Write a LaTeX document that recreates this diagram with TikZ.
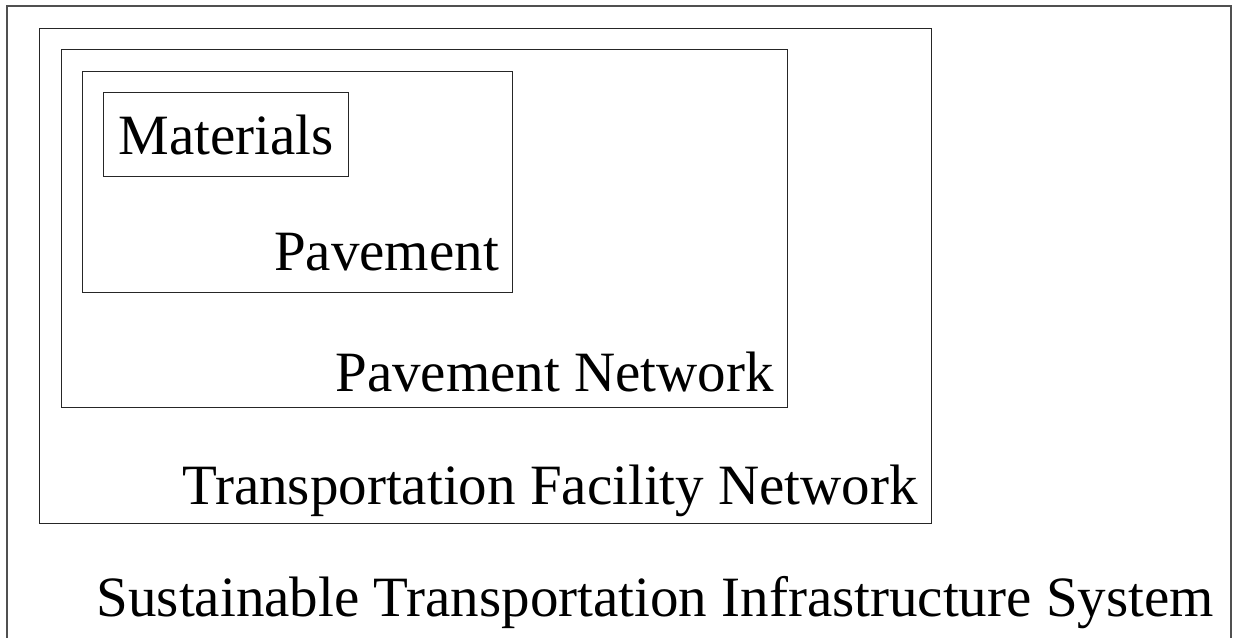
\documentclass[tikz,border=0pt]{standalone}
\usepackage{fontspec}
\setmainfont{Liberation Serif}
\usepackage{tikz}
\usetikzlibrary{positioning,calc}
\definecolor{edgegray}{RGB}{80,80,80}
\tikzset{
  layer/.style={draw=black!85, line width=1.1pt},
  outerlayer/.style={draw=edgegray, line width=1.8pt},
  tag/.style={font=\fontsize{57pt}{62pt}\selectfont, inner sep=0pt, anchor=base east},
}
\begin{document}
\begin{tikzpicture}[x=1pt, y=-1pt]
\useasboundingbox (0,0) rectangle (1233,637);

% -- nested frames -----------------------------------------------------------
\draw[outerlayer] (7,650) -- (7,6) -- (1231,6) -- (1231,650);
\node[layer, minimum width=892pt, minimum height=495pt, inner sep=0pt,
      anchor=north west] (facility) at (39,28) {};
\node[layer, minimum width=726pt, minimum height=358pt, inner sep=0pt,
      anchor=north west] (network) at (61,49) {};
\node[layer, minimum width=430pt, minimum height=221pt, inner sep=0pt,
      anchor=north west] (pavement) at (82,71) {};
\node[layer, minimum width=245pt, minimum height=84pt, inner sep=0pt,
      anchor=north west] (materials) at (103,92) {};

% -- labels ------------------------------------------------------------------
\node[tag, anchor=base] (matlbl) at ($(materials.north)+(0,62)$) {Materials};
\node[tag] (pavlbl) at ($(pavement.south east)+(-14,-23)$) {Pavement};
\node[tag] (netlbl) at ($(network.south east)+(-14,-17)$) {Pavement Network};
\node[tag] (faclbl) at ($(facility.south east)+(-14,-20)$) {Transportation Facility Network};
\coordinate (systemcorner) at (1231,616);
\node[tag] (syslbl) at ($(systemcorner)+(-17,0)$) {Sustainable Transportation Infrastructure System};

\end{tikzpicture}
\end{document}
